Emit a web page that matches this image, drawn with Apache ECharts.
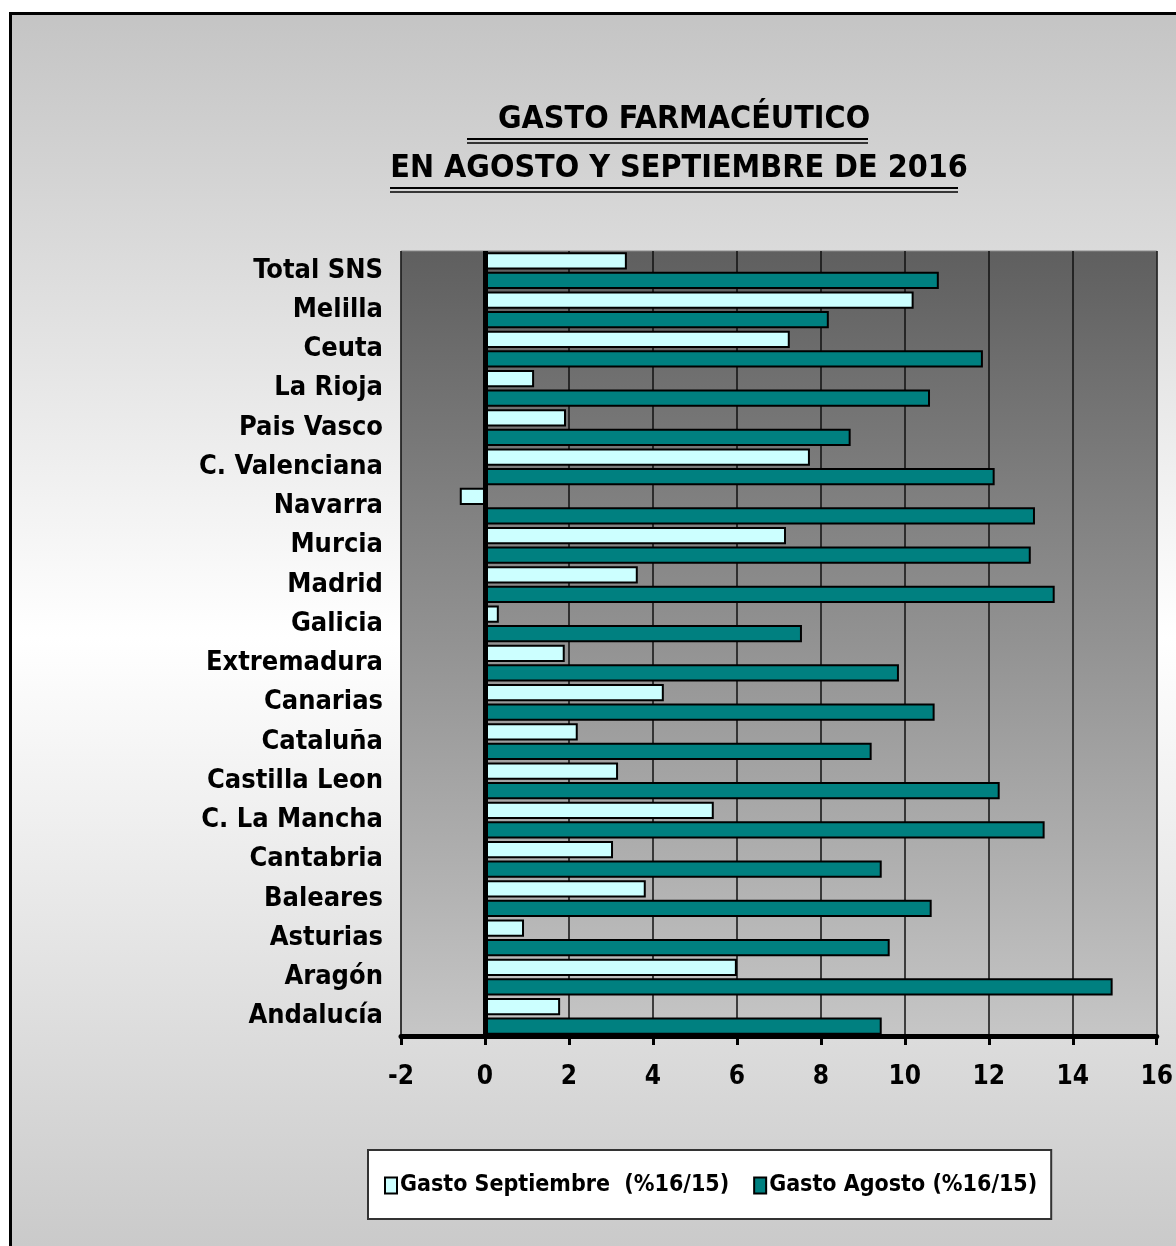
<!DOCTYPE html>
<html>
<head>
<meta charset="utf-8">
<script src="https://cdn.jsdelivr.net/npm/echarts@6/dist/echarts.min.js"></script>
<style>
  html, body { margin: 0; padding: 0; background: #fff; }
  #container { width: 1176px; height: 1246px; }
</style>
</head>
<body>
<div id="container"></div>
<script>
var regiones = ['Andalucía', 'Aragón', 'Asturias', 'Baleares', 'Cantabria', 'C. La Mancha',
    'Castilla Leon', 'Cataluña', 'Canarias', 'Extremadura', 'Galicia', 'Madrid', 'Murcia',
    'Navarra', 'C. Valenciana', 'Pais Vasco', 'La Rioja', 'Ceuta', 'Melilla', 'Total SNS'];
var gastoSeptiembre = [1.79, 6.0, 0.93, 3.83, 3.05, 5.45, 3.17, 2.21, 4.26, 1.9, 0.33, 3.64, 7.17,
    -0.6, 7.74, 1.93, 1.17, 7.26, 10.21, 3.38];
var gastoAgosto = [9.45, 14.95, 9.64, 10.64, 9.45, 13.33, 12.26, 9.21, 10.71, 9.86, 7.55, 13.57, 13.0,
    13.1, 12.14, 8.71, 10.6, 11.86, 8.19, 10.81];
var ejeX = [-2, 0, 2, 4, 6, 8, 10, 12, 14, 16];

var fuente = '"Liberation Sans Narrow", "DejaVu Sans Condensed", "Liberation Sans", sans-serif';

var dom = document.getElementById("container");
var myChart = echarts.init(dom);
var option = {
    animation: false,
    graphic: [
        {
            type: 'rect', z: -10, left: 9, top: 12,
            shape: { width: 1200, height: 1300 },
            style: {
                fill: new echarts.graphic.LinearGradient(0, 0, 0, 1, [
                    { offset: 0, color: '#c4c4c4' },
                    { offset: 0.48, color: '#ffffff' },
                    { offset: 1, color: '#c4c4c4' }
                ]),
                stroke: '#000', lineWidth: 3
            }
        },
        // subrayado doble del titulo
        { type: 'line', z: 100, shape: { x1: 467, y1: 139, x2: 868, y2: 139 }, style: { stroke: '#000', lineWidth: 2 } },
        { type: 'line', z: 100, shape: { x1: 467, y1: 143, x2: 868, y2: 143 }, style: { stroke: '#000', lineWidth: 1.5 } },
        { type: 'line', z: 100, shape: { x1: 390, y1: 188, x2: 958, y2: 188 }, style: { stroke: '#000', lineWidth: 2 } },
        { type: 'line', z: 100, shape: { x1: 390, y1: 192, x2: 958, y2: 192 }, style: { stroke: '#000', lineWidth: 1.5 } }
    ],
    title: {
        text: ' GASTO FARMACÉUTICO\nEN AGOSTO Y SEPTIEMBRE DE 2016',
        left: 674, top: 90, textAlign: 'center',
        textStyle: { fontFamily: fuente, fontSize: 32, fontWeight: 'bold', color: '#000', lineHeight: 49 }
    },
    legend: {
        left: 368, top: 1150,
        padding: [24, 14, 22, 16],
        backgroundColor: '#fff', borderColor: '#333', borderWidth: 2,
        icon: 'rect', itemWidth: 12, itemHeight: 16, itemGap: 24,
        textStyle: { fontFamily: fuente, fontSize: 23, fontWeight: 'bold', color: '#000', padding: [0, 0, 0, -2] },
        data: ['Gasto Septiembre  (%16/15)', 'Gasto Agosto (%16/15)']
    },
    grid: {
        left: 401, right: 19, top: 251, bottom: 210,
        show: true, borderColor: '#888', borderWidth: 1,
        backgroundColor: new echarts.graphic.LinearGradient(0, 0, 0, 1, [
            { offset: 0, color: '#5f5f5f' },
            { offset: 1, color: '#c6c6c6' }
        ])
    },
    xAxis: {
        type: 'value', min: ejeX[0], max: ejeX[ejeX.length - 1], interval: 2,
        axisLine: { show: true, onZero: false, lineStyle: { color: '#000', width: 5 } },
        axisTick: { show: true, length: 9, lineStyle: { color: '#000', width: 3 } },
        axisLabel: { fontFamily: fuente, fontSize: 26, fontWeight: 'bold', color: '#000', margin: 28 },
        splitLine: { show: true, lineStyle: { color: '#111', width: 1.5 } }
    },
    yAxis: {
        type: 'category', data: regiones,
        axisLine: { show: false },
        axisTick: { show: false },
        axisLabel: { fontFamily: fuente, fontSize: 27, fontWeight: 'bold', color: '#000', margin: 18 }
    },
    series: [
        {
            name: 'Gasto Septiembre  (%16/15)', type: 'bar', data: gastoSeptiembre,
            barCategoryGap: '6%', barGap: '12%',
            itemStyle: { color: '#ccffff', borderColor: '#000', borderWidth: 2 },
            markLine: {
                silent: true, symbol: 'none', label: { show: false },
                lineStyle: { color: '#000', width: 5, type: 'solid' },
                data: [{ xAxis: 0 }]
            }
        },
        {
            name: 'Gasto Agosto (%16/15)', type: 'bar', data: gastoAgosto,
            barCategoryGap: '6%', barGap: '12%',
            itemStyle: { color: '#008080', borderColor: '#000', borderWidth: 2 }
        }
    ]
};
if (option && typeof option === "object") {
    myChart.setOption(option, true);
}
</script>
</body>
</html>
